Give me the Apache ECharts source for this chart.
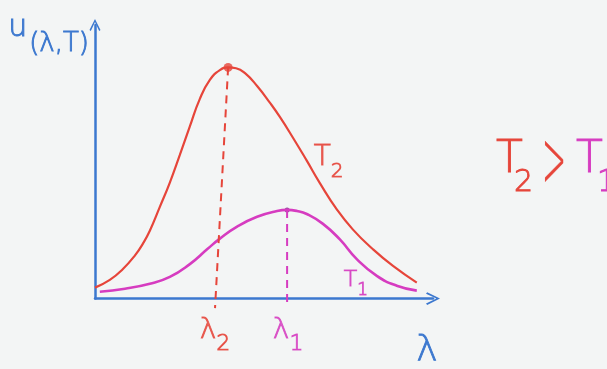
<!DOCTYPE html>
<html>
<head>
<meta charset="utf-8">
<script src="https://cdn.jsdelivr.net/npm/echarts@6/dist/echarts.min.js"></script>
<style>
  html, body { margin: 0; padding: 0; background: #f3f5f5; }
  #chart { width: 607px; height: 369px; }
</style>
</head>
<body>
<div id="chart"></div>
<script>
// Planck-style spectral energy density sketch, arbitrary units
const hotX  = [0.00, 0.43, 0.81, 1.16, 1.39, 1.59, 1.88, 2.17, 2.46, 2.75, 3.04, 3.33, 3.62, 3.86, 4.09, 4.35, 4.70, 5.07, 5.36, 5.74, 6.14, 6.52, 7.01, 7.48, 8.06, 8.64, 9.33];
const hotY  = [0.40, 0.68, 1.08, 1.58, 2.01, 2.48, 3.35, 4.24, 5.25, 6.29, 7.30, 7.99, 8.35, 8.45, 8.42, 8.24, 7.77, 7.16, 6.64, 5.88, 5.04, 4.22, 3.26, 2.52, 1.80, 1.19, 0.58];
const coldX = [0.14, 0.87, 1.59, 2.17, 2.75, 3.25, 3.62, 4.12, 4.70, 5.28, 5.57, 5.86, 6.14, 6.61, 7.10, 7.59, 8.17, 8.75, 9.33];
const coldY = [0.25, 0.36, 0.54, 0.79, 1.26, 1.80, 2.19, 2.63, 2.99, 3.20, 3.24, 3.20, 3.09, 2.73, 2.16, 1.44, 0.83, 0.47, 0.29];
const hotPeak  = [3.86, 8.45];
const coldPeak = [5.57, 3.24];
const peakFoot = [3.48, 5.57];   // where each dashed drop meets the axis
const peakLabels = [['λ', '2'], ['λ', '1']];
const curveLabels = [['T', '2'], ['T', '1']];

const RED = '#e6453a', MAG = '#d63cc0', BLUE = '#3c78cf', DOT = '#7a2a8a';
const FONT = 'DejaVu Sans';
const WEIGHT = 200;
const PEN = 0.9;   // extra stroke so the thin face reads like a felt pen
const chevron = 'path://M0,10 L5,0 L10,10 L8.8,10.9 L5,2.8 L1.2,10.9 Z';

const zip = (xs, ys) => xs.map((x, i) => [x, ys[i]]);
const pen = (color, size, extra) => Object.assign({
  color: color, fontFamily: FONT, fontWeight: WEIGHT, fontSize: size,
  textBorderColor: color, textBorderWidth: PEN
}, extra || {});
// letter with a dropped subscript
const sub = (pair) => '{b|' + pair[0] + '}{s|' + pair[1] + '}';
const subRich = (color, big, small, lh) => ({
  b: pen(color, big, { verticalAlign: 'top', lineHeight: lh }),
  s: pen(color, small, { verticalAlign: 'bottom', lineHeight: lh })
});
const gText = (str, color, size, x, y, extra, stroke) => Object.assign({
  type: 'text', x: x, y: y,
  style: {
    text: str, fill: color, stroke: color, lineWidth: stroke === undefined ? PEN : stroke,
    fontFamily: FONT, fontWeight: WEIGHT, fontSize: size, verticalAlign: 'top'
  }
}, extra || {});

const chart = echarts.init(document.getElementById('chart'));
chart.setOption({
  backgroundColor: '#f3f5f5',
  animation: false,
  grid: { left: 95, right: 174, top: 25, bottom: 66 },
  xAxis: {
    type: 'value', min: 0, max: 9.8,
    axisLine: { lineStyle: { color: BLUE, width: 2.5 }, symbol: ['none', chevron], symbolSize: [18, 14] },
    axisTick: { show: false }, axisLabel: { show: false }, splitLine: { show: false },
    name: 'λ', nameLocation: 'end', nameGap: 0,
    nameTextStyle: pen(BLUE, 36, { align: 'center', verticalAlign: 'top', padding: [34, 0, 0, -12] })
  },
  yAxis: {
    type: 'value', min: 0, max: 10,
    axisLine: { lineStyle: { color: BLUE, width: 2.5 }, symbol: ['none', chevron], symbolSize: [14, 12] },
    axisTick: { show: false }, axisLabel: { show: false }, splitLine: { show: false },
    name: '{u|u}{p|(λ,T)}', nameLocation: 'end', nameGap: 0,
    nameTextStyle: {
      align: 'right', verticalAlign: 'bottom', padding: [0, 6, -32, 0],
      rich: {
        u: pen(BLUE, 30, { verticalAlign: 'top', lineHeight: 44, padding: [0, 2, 0, 0] }),
        p: pen(BLUE, 26, { verticalAlign: 'bottom', lineHeight: 44 })
      }
    }
  },
  series: [
    {
      type: 'line', data: zip(hotX, hotY), smooth: 0.5, symbol: 'none',
      lineStyle: { color: RED, width: 2.2 }
    },
    {
      type: 'line', data: zip(coldX, coldY), smooth: 0.5, symbol: 'none',
      lineStyle: { color: MAG, width: 2.6 }
    },
    {
      type: 'line', clip: false, symbol: 'none',
      data: [hotPeak, [peakFoot[0], -0.35]],
      lineStyle: { color: RED, width: 2, type: [8, 6] }
    },
    {
      type: 'line', clip: false, symbol: 'none',
      data: [coldPeak, [peakFoot[1], -0.35]],
      lineStyle: { color: MAG, width: 2, type: [8, 6] }
    },
    {
      type: 'scatter', clip: false, symbolSize: 0,
      data: [
        { value: [peakFoot[0], -0.35], label: { formatter: sub(peakLabels[0]), rich: subRich(RED, 28, 22, 38), offset: [0, 7] } },
        { value: [peakFoot[1], -0.35], label: { formatter: sub(peakLabels[1]), rich: subRich(MAG, 28, 22, 38), offset: [1, 7] } }
      ],
      label: { show: true, position: 'bottom', distance: 2 }
    },
    {
      type: 'scatter', clip: false,
      data: [
        { value: hotPeak, itemStyle: { color: RED }, symbolSize: 9 },
        { value: coldPeak, itemStyle: { color: DOT }, symbolSize: 5 }
      ]
    },
    {
      // curve tags beside the falling flank of each curve
      type: 'scatter', clip: false, symbolSize: 0,
      data: [
        { value: [hotX[20], hotY[20]], label: { formatter: sub(curveLabels[0]), rich: subRich(RED, 28, 20, 38), offset: [2, 2] } },
        { value: [coldX[16], coldY[16]], label: { formatter: sub(curveLabels[1]), rich: subRich(MAG, 22, 17, 30), offset: [-38, 8] } }
      ],
      label: { show: true, position: 'right' }
    }
  ],
  graphic: [
    gText('T', RED, 44, 496, 139),
    gText('2', RED, 30, 514, 168),
    gText('>', RED, 48, 542, 125, { scaleX: 0.6, scaleY: 1.7 }, 0.3),
    gText('T', MAG, 44, 576, 139),
    gText('1', MAG, 30, 597, 168)
  ]
});
</script>
</body>
</html>
